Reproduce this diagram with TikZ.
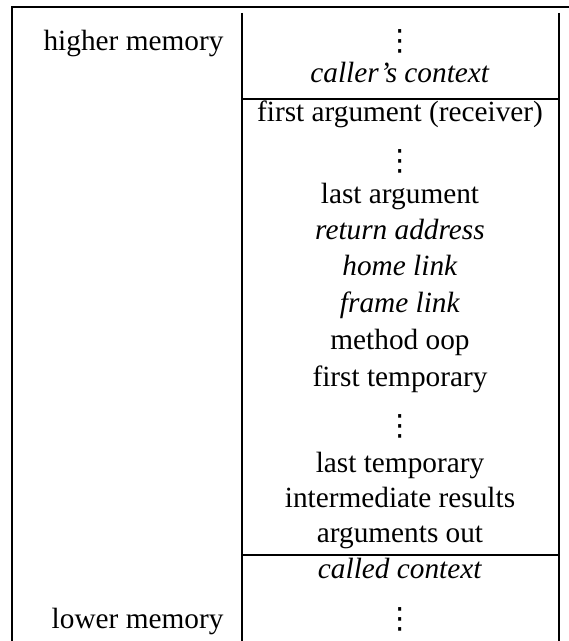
\documentclass[tikz,border=0pt]{standalone}
\usepackage{fontspec}
\setmainfont{Liberation Serif}
\newfontfamily\dotsfont{DejaVu Sans}
\newcommand\stackeddots{{\dotsfont ⋮}}

\begin{document}
\begin{tikzpicture}[x=0.3413pt, y=-0.3413pt,
        outerbox/.style={line width=.7pt},
        colrule/.style={line width=1pt},
        rowrule/.style={line width=.8pt},
        cell/.style={anchor=base, inner sep=0pt},
        side/.style={anchor=base east, inner sep=0pt}
        ]
        \useasboundingbox (0,0) rectangle (568,641);
        % frame and stack column
        \coordinate (boxSW) at (12,650);
        \coordinate (boxNW) at (12,7);
        \coordinate (boxNE) at (580,7);
        \coordinate (colNW) at (242,13);
        \coordinate (colSW) at (242,650);
        \coordinate (colNE) at (559,13);
        \coordinate (colSE) at (559,650);
        \coordinate (upW) at (242,99);
        \coordinate (upE) at (559,99);
        \coordinate (lowW) at (242,555);
        \coordinate (lowE) at (559,555);
        \draw [outerbox] (boxSW) -- (boxNW) -- (boxNE);
        \draw [colrule] (colNW) -- (colSW);
        \draw [colrule] (colNE) -- (colSE);
        \draw [rowrule] (upW) -- (upE);
        \draw [rowrule] (lowW) -- (lowE);
        % memory ends
        \node [side, name=himem] at (224,51) {higher memory};
        \node [side, name=lomem] at (224,628) {lower memory};
        % stack entries
        \node [cell, name=dotsa] at (400,51) {\stackeddots};
        \node [cell, name=caller] at (400,83) {\textit{caller’s context}};
        \node [cell, name=firstarg] at (400,122) {first argument (receiver)};
        \node [cell, name=dotsb] at (400,171) {\stackeddots};
        \node [cell, name=lastarg] at (400,204) {last argument};
        \node [cell, name=retaddr] at (400,240) {\textit{return address}};
        \node [cell, name=homelink] at (400,276) {\textit{home link}};
        \node [cell, name=framelink] at (400,312) {\textit{frame link}};
        \node [cell, name=methodoop] at (400,349) {method oop};
        \node [cell, name=firsttemp] at (400,386) {first temporary};
        \node [cell, name=dotsc] at (400,435) {\stackeddots};
        \node [cell, name=lasttemp] at (400,472) {last temporary};
        \node [cell, name=interm] at (400,507) {intermediate results};
        \node [cell, name=argsout] at (400,542) {arguments out};
        \node [cell, name=called] at (400,578) {\textit{called context}};
        \node [cell, name=dotsd] at (400,628) {\stackeddots};
\end{tikzpicture}
\end{document}
